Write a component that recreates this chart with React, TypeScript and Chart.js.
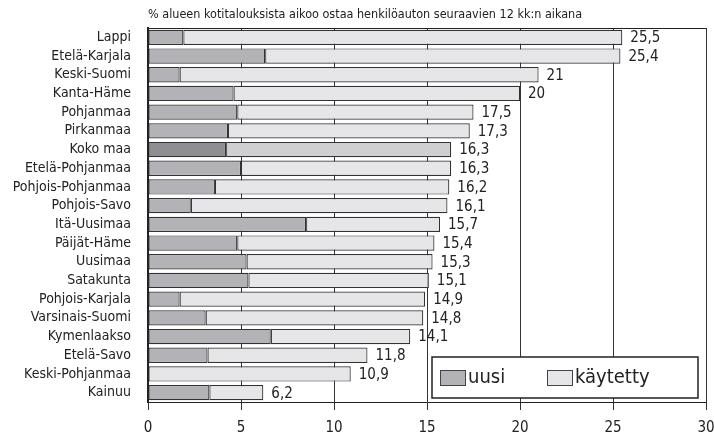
import React, { useEffect, useRef } from "react";
import { Chart, registerables } from "chart.js";

Chart.register(...registerables);

const categories = [
  "Lappi", "Etelä-Karjala", "Keski-Suomi", "Kanta-Häme", "Pohjanmaa", "Pirkanmaa",
  "Koko maa", "Etelä-Pohjanmaa", "Pohjois-Pohjanmaa", "Pohjois-Savo", "Itä-Uusimaa",
  "Päijät-Häme", "Uusimaa", "Satakunta", "Pohjois-Karjala", "Varsinais-Suomi",
  "Kymenlaakso", "Etelä-Savo", "Keski-Pohjanmaa", "Kainuu",
];
const uusi = [1.9, 6.3, 1.7, 4.6, 4.8, 4.3, 4.2, 5.0, 3.6, 2.3, 8.5, 4.8, 5.3, 5.4, 1.7, 3.1, 6.6, 3.2, 0, 3.3];
const kaytetty = [23.6, 19.1, 19.3, 15.4, 12.7, 13.0, 12.1, 11.3, 12.6, 13.8, 7.2, 10.6, 10.0, 9.7, 13.2, 11.7, 7.5, 8.6, 10.9, 2.9];
const totalLabels = ["25,5", "25,4", "21", "20", "17,5", "17,3", "16,3", "16,3", "16,2", "16,1", "15,7", "15,4", "15,3", "15,1", "14,9", "14,8", "14,1", "11,8", "10,9", "6,2"];
const xTicks = [0, 5, 10, 15, 20, 25, 30];
const titleText = "% alueen kotitalouksista aikoo ostaa henkilöauton seuraavien 12 kk:n aikana";
const seriesNames = ["uusi", "käytetty"];

const FONT = "'DejaVu Sans Condensed', 'Liberation Sans Narrow', sans-serif";
const highlight = "Koko maa";
const uusiColors = categories.map((c) => (c === highlight ? "#8f8f93" : "#b3b3b7"));
const kaytColors = categories.map((c) => (c === highlight ? "#cfcfd1" : "#e6e6e8"));

const overlay = {
  id: "overlay",
  afterDatasetsDraw(chart: any) {
    const { ctx, chartArea } = chart;
    const x = chart.scales.x;
    const y = chart.scales.y;
    ctx.save();
    // top border
    ctx.strokeStyle = "#222";
    ctx.lineWidth = 1;
    ctx.beginPath();
    ctx.moveTo(chartArea.left, chartArea.top + 0.5);
    ctx.lineTo(chartArea.right, chartArea.top + 0.5);
    ctx.stroke();
    // value labels
    ctx.fillStyle = "#222";
    ctx.font = "15px " + FONT;
    ctx.textAlign = "left";
    ctx.textBaseline = "middle";
    categories.forEach((c, i) => {
      const total = uusi[i] + kaytetty[i];
      ctx.fillText(totalLabels[i], x.getPixelForValue(total) + 8, y.getPixelForValue(i) + 1);
    });
    // title
    ctx.font = "12.5px " + FONT;
    ctx.fillStyle = "#222";
    ctx.textBaseline = "middle";
    ctx.fillText(titleText, chartArea.left, 15);
    // legend
    const lx = 432, ly = 357, lw = 266, lh = 41;
    ctx.fillStyle = "#ffffff";
    ctx.fillRect(lx, ly, lw, lh);
    ctx.strokeStyle = "#222";
    ctx.lineWidth = 1.5;
    ctx.strokeRect(lx, ly, lw, lh);
    const sw = [
      { x: 440, color: "#b3b3b7", text: seriesNames[0] },
      { x: 547, color: "#e6e6e8", text: seriesNames[1] },
    ];
    sw.forEach((s) => {
      ctx.fillStyle = s.color;
      ctx.fillRect(s.x, 370, 25, 15);
      ctx.strokeStyle = "#444";
      ctx.lineWidth = 1;
      ctx.strokeRect(s.x + 0.5, 370.5, 25, 15);
      ctx.fillStyle = "#222";
      ctx.font = "20px " + FONT;
      ctx.textBaseline = "middle";
      ctx.fillText(s.text, s.x + 28, 378);
    });
    ctx.restore();
  },
};

export default function App() {
  const ref = useRef<HTMLCanvasElement | null>(null);
  useEffect(() => {
    document.body.style.margin = "0";
    const common = {
      borderColor: "#333",
      borderWidth: 1.2,
      borderSkipped: false,
      barPercentage: 0.82,
      categoryPercentage: 1,
    };
    const chart = new Chart(ref.current as HTMLCanvasElement, {
      type: "bar",
      data: {
        labels: categories,
        datasets: [
          { label: seriesNames[0], data: uusi, backgroundColor: uusiColors, ...common },
          { label: seriesNames[1], data: kaytetty, backgroundColor: kaytColors, ...common },
        ],
      },
      options: {
        indexAxis: "y",
        animation: false,
        responsive: true,
        maintainAspectRatio: false,
        layout: { padding: { top: 28, right: 8, left: 0, bottom: 0 } },
        plugins: { legend: { display: false }, tooltip: { enabled: false }, title: { display: false } },
        scales: {
          x: {
            stacked: true,
            min: 0,
            max: 30,
            afterBuildTicks: (s: any) => {
              s.ticks = xTicks.map((v) => ({ value: v }));
            },
            afterFit: (s: any) => {
              s.height = 33;
              s.paddingRight = 0;
              s.paddingLeft = 0;
            },
            grid: { color: "#333", lineWidth: 1, tickLength: 8, drawTicks: true },
            border: { display: true, color: "#222", width: 1 },
            ticks: { color: "#222", font: { family: FONT, size: 15 }, padding: 9, maxRotation: 0 },
          },
          y: {
            stacked: true,
            afterFit: (s: any) => {
              s.width = 148;
            },
            grid: { display: false },
            border: { display: true, color: "#222", width: 2 },
            ticks: { color: "#222", font: { family: FONT, size: 14 }, padding: 9, autoSkip: false },
          },
        },
      },
      plugins: [overlay],
    } as any);
    return () => chart.destroy();
  }, []);
  return (
    <div style={{ position: "absolute", left: 0, top: 0, width: 714, height: 435 }}>
      <canvas ref={ref} />
    </div>
  );
}
